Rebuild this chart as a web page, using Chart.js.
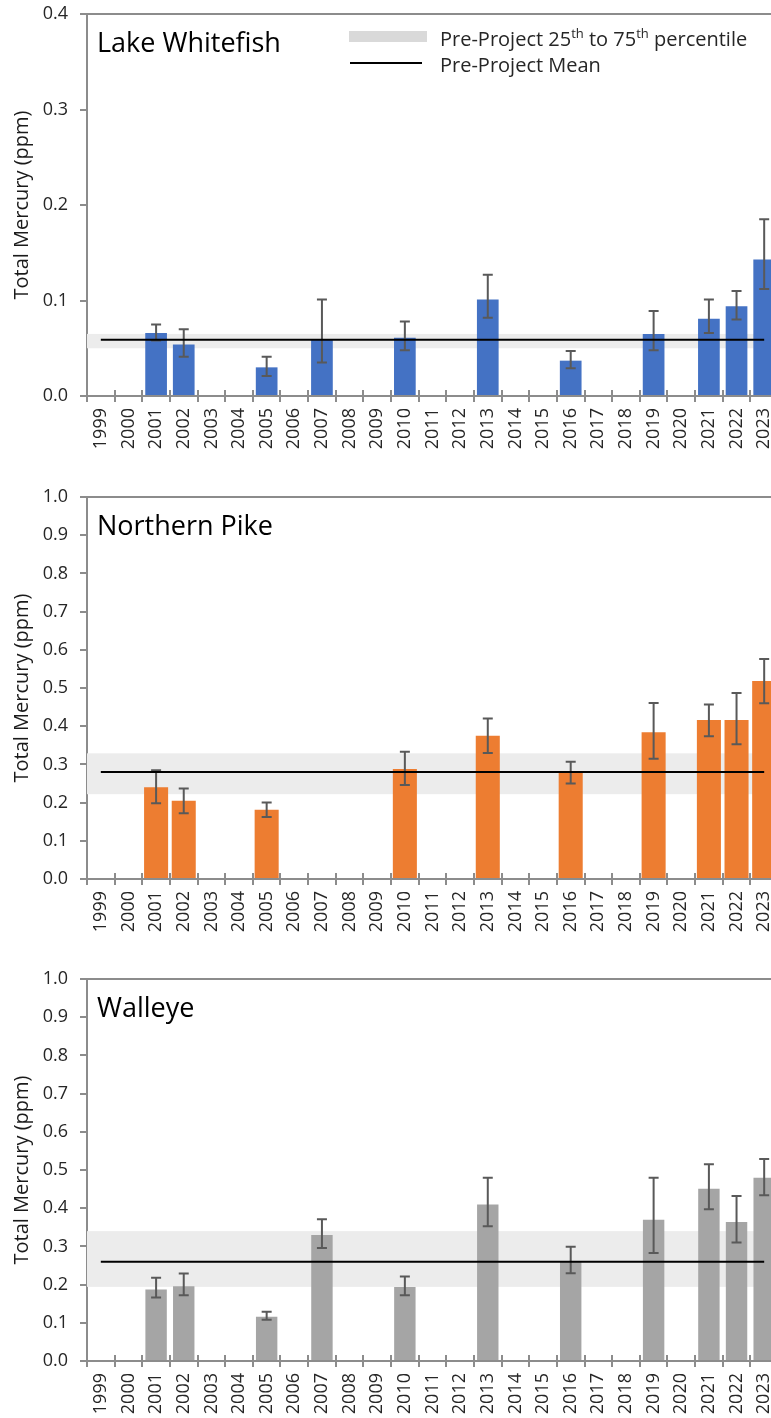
<!DOCTYPE html>
<html><head><meta charset="utf-8">
<script src="https://cdn.jsdelivr.net/npm/chart.js@4.4.1/dist/chart.umd.min.js"></script>
<style>
html,body{margin:0;padding:0;background:#fff;width:771px;height:1418px;overflow:hidden;position:relative;}
.panel{position:absolute;left:0;width:782px;height:456px;}
</style></head><body>
<div class="panel" style="top:0"><canvas id="c1" width="782" height="456"></canvas></div>
<div class="panel" style="top:483px"><canvas id="c2" width="782" height="456"></canvas></div>
<div class="panel" style="top:965px"><canvas id="c3" width="782" height="456"></canvas></div>
<script>
const years = ['1999','2000','2001','2002','2003','2004','2005','2006','2007','2008','2009','2010','2011','2012','2013','2014','2015','2016','2017','2018','2019','2020','2021','2022','2023'];

const whitefishMean = [null,null,0.066,0.054,null,null,0.030,null,0.059,null,null,0.061,null,null,0.101,null,null,0.037,null,null,0.065,null,0.081,0.094,0.143];
const whitefishLow  = [null,null,0.058,0.041,null,null,0.021,null,0.035,null,null,0.048,null,null,0.082,null,null,0.029,null,null,0.048,null,0.066,0.080,0.112];
const whitefishHigh = [null,null,0.075,0.070,null,null,0.041,null,0.101,null,null,0.078,null,null,0.127,null,null,0.047,null,null,0.089,null,0.101,0.110,0.185];
const whitefishPre = {mean:0.059, p25:0.050, p75:0.065};

const pikeMean = [null,null,0.240,0.205,null,null,0.181,null,null,null,null,0.288,null,null,0.375,null,null,0.278,null,null,0.384,null,0.416,0.416,0.518];
const pikeLow  = [null,null,0.198,0.172,null,null,0.162,null,null,null,null,0.246,null,null,0.330,null,null,0.250,null,null,0.315,null,0.374,0.353,0.460];
const pikeHigh = [null,null,0.285,0.237,null,null,0.200,null,null,null,null,0.333,null,null,0.420,null,null,0.307,null,null,0.461,null,0.457,0.487,0.576];
const pikePre = {mean:0.280, p25:0.222, p75:0.329};

const walleyeMean = [null,null,0.187,0.196,null,null,0.116,null,0.330,null,null,0.194,null,null,0.410,null,null,0.259,null,null,0.370,null,0.451,0.364,0.480];
const walleyeLow  = [null,null,0.166,0.172,null,null,0.108,null,0.296,null,null,0.172,null,null,0.353,null,null,0.230,null,null,0.283,null,0.397,0.310,0.434];
const walleyeHigh = [null,null,0.218,0.229,null,null,0.129,null,0.371,null,null,0.221,null,null,0.480,null,null,0.299,null,null,0.480,null,0.515,0.432,0.529];
const walleyePre = {mean:0.260, p25:0.194, p75:0.340};

const FONT = "'Open Sans', sans-serif";
Chart.defaults.font.family = FONT;
Chart.defaults.font.size = 18;
const AXIS = '#8c8c8c';

function makeChart(id, opt) {
  const plugin = {
    id: 'extras_' + id,
    beforeDatasetsDraw(chart) {
      const {ctx, chartArea: a, scales: {y}} = chart;
      ctx.save();
      ctx.fillStyle = '#ececec';
      const t = y.getPixelForValue(opt.pre.p75), b = y.getPixelForValue(opt.pre.p25);
      ctx.fillRect(a.left, t, a.right - a.left, b - t);
      ctx.restore();
    },
    afterDatasetDraw(chart, args) {
      if (args.index !== 1) return;
      const {ctx, scales: {x, y}} = chart;
      ctx.save();
      ctx.strokeStyle = '#595959';
      ctx.lineWidth = 2;
      opt.low.forEach((lo, i) => {
        const hi = opt.high[i];
        if (lo == null || hi == null) return;
        const px = x.getPixelForValue(i);
        const py1 = y.getPixelForValue(lo), py2 = y.getPixelForValue(hi);
        ctx.beginPath();
        ctx.moveTo(px, py1); ctx.lineTo(px, py2);
        ctx.moveTo(px - 5, py1); ctx.lineTo(px + 5, py1);
        ctx.moveTo(px - 5, py2); ctx.lineTo(px + 5, py2);
        ctx.stroke();
      });
      ctx.restore();
    },
    afterDraw(chart) {
      const {ctx, chartArea: a, scales: {x}} = chart;
      ctx.save();
      ctx.strokeStyle = AXIS; ctx.lineWidth = 2;
      ctx.beginPath(); ctx.moveTo(a.left, a.top); ctx.lineTo(a.right, a.top); ctx.stroke();
      const half = (x.getPixelForValue(1) - x.getPixelForValue(0)) / 2;
      ctx.beginPath();
      for (let i = 0; i <= years.length; i++) {
        const bx = Math.round(x.getPixelForValue(i) - half);
        ctx.moveTo(bx, a.bottom - 6); ctx.lineTo(bx, a.bottom);
      }
      ctx.stroke();
      ctx.fillStyle = '#000';
      ctx.font = '27px ' + FONT;
      ctx.textBaseline = 'alphabetic';
      ctx.textAlign = 'left';
      ctx.fillText(opt.title, a.left + 10, a.top + 38);
      if (opt.legend) {
        const lx = 349;
        ctx.fillStyle = '#d9d9d9';
        ctx.fillRect(lx, a.top + 17, 78, 11);
        ctx.strokeStyle = '#000'; ctx.lineWidth = 2;
        ctx.beginPath(); ctx.moveTo(lx + 1, a.top + 49); ctx.lineTo(lx + 73, a.top + 49); ctx.stroke();
        ctx.fillStyle = '#262626';
        const big = '20px ' + FONT, sup = '13px ' + FONT;
        let tx = 440;
        const base1 = a.top + 32;
        const parts = [['Pre-Project 25', big, 0], ['th', sup, -8], [' to 75', big, 0], ['th', sup, -8], [' percentile', big, 0]];
        parts.forEach(([s, f, dy]) => {
          ctx.font = f;
          ctx.fillText(s, tx, base1 + dy);
          tx += ctx.measureText(s).width;
        });
        ctx.font = big;
        ctx.fillText('Pre-Project Mean', 440, a.top + 58);
      }
      ctx.restore();
    }
  };

  return new Chart(document.getElementById(id), {
    data: {
      labels: years,
      datasets: [
        {
          type: 'line',
          label: 'Pre-Project Mean',
          data: years.map(() => opt.pre.mean),
          borderColor: '#000',
          borderWidth: 2,
          pointRadius: 0,
          fill: false,
          order: 1
        },
        {
          type: 'bar',
          label: opt.title,
          data: opt.values,
          backgroundColor: opt.color,
          barPercentage: opt.barPct,
          categoryPercentage: 1,
          order: 2
        }
      ]
    },
    options: {
      responsive: false,
      animation: false,
      events: [],
      layout: {padding: {top: 14, left: 0, right: 4, bottom: 0}},
      plugins: {legend: {display: false}, tooltip: {enabled: false}},
      scales: {
        x: {
          type: 'category',
          offset: true,
          afterFit(s) { s.height = 60; s.paddingLeft = 0; s.paddingRight = 0; },
          grid: {display: true, drawOnChartArea: false, offset: true, tickLength: 6, color: AXIS, lineWidth: 2},
          border: {display: true, color: AXIS, width: 2},
          ticks: {minRotation: 90, maxRotation: 90, autoSkip: false, padding: 6, color: '#262626', font: {size: 18, family: FONT}}
        },
        y: {
          min: 0, max: opt.max,
          afterFit(s) { s.width = 87; s.paddingTop = 0; s.paddingBottom = 0; },
          grid: {display: true, drawOnChartArea: false, tickLength: 7, color: AXIS, lineWidth: 2},
          border: {display: true, color: AXIS, width: 2},
          ticks: {stepSize: 0.1, padding: 12, color: '#262626', font: {size: 18, family: FONT},
                  callback: v => Number(v).toFixed(1)},
          title: {display: true, text: 'Total Mercury (ppm)', color: '#1a1a1a', font: {size: 20, family: FONT}, padding: {top: 10, bottom: 0}}
        }
      }
    },
    plugins: [plugin]
  });
}

makeChart('c1', {title: 'Lake Whitefish', values: whitefishMean, low: whitefishLow, high: whitefishHigh, pre: whitefishPre, max: 0.4, color: '#4472c4', barPct: 0.785, legend: true});
makeChart('c2', {title: 'Northern Pike', values: pikeMean, low: pikeLow, high: pikeHigh, pre: pikePre, max: 1.0, color: '#ed7d31', barPct: 0.87, legend: false});
makeChart('c3', {title: 'Walleye', values: walleyeMean, low: walleyeLow, high: walleyeHigh, pre: walleyePre, max: 1.0, color: '#a5a5a5', barPct: 0.775, legend: false});
</script>
</body></html>
